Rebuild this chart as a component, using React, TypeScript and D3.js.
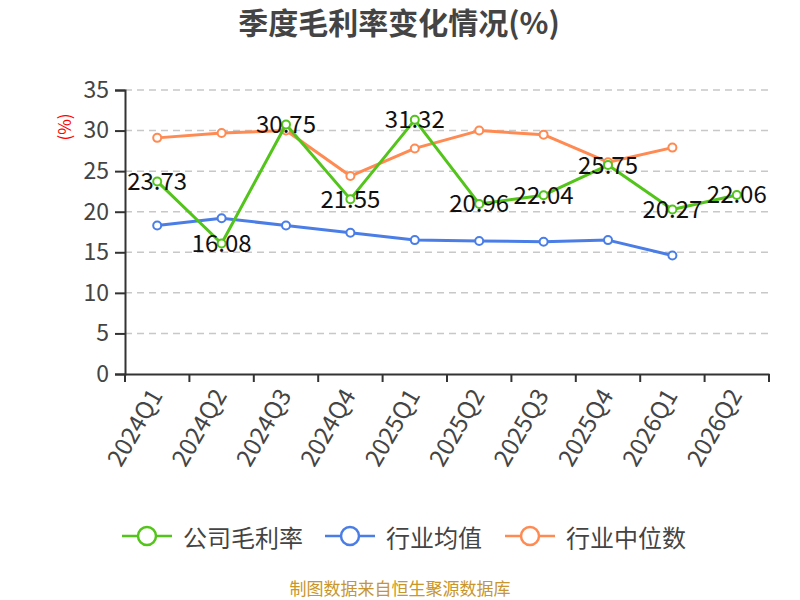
import { useEffect, useRef } from 'react';
import * as d3 from 'd3';

const QUARTERS = ['2024Q1', '2024Q2', '2024Q3', '2024Q4', '2025Q1', '2025Q2', '2025Q3', '2025Q4', '2026Q1', '2026Q2'];
const COMPANY = [23.73, 16.08, 30.75, 21.55, 31.32, 20.96, 22.04, 25.75, 20.27, 22.06];
const INDUSTRY_AVG = [18.3, 19.2, 18.3, 17.4, 16.5, 16.4, 16.3, 16.5, 14.6];
const INDUSTRY_MED = [29.1, 29.7, 30.0, 24.4, 27.8, 30.0, 29.5, 26.1, 27.9];
const Y_TICKS = [0, 5, 10, 15, 20, 25, 30, 35];

const SERIES = [
  { name: '公司毛利率', values: COMPANY, color: '#52c41a' },
  { name: '行业均值', values: INDUSTRY_AVG, color: '#4a7ee6' },
  { name: '行业中位数', values: INDUSTRY_MED, color: '#ff8a52' },
];

const FONT = '"Noto Sans CJK SC", "Noto Sans", sans-serif';

export default function App() {
  const svgRef = useRef<SVGSVGElement>(null);

  useEffect(() => {
    const svgEl = svgRef.current;
    if (!svgEl) return;
    const width = 800;
    const height = 600;
    const margin = { top: 90, right: 31, bottom: 226, left: 125 };

    const svg = d3.select(svgEl).attr('viewBox', `0 0 ${width} ${height}`);
    svg.selectAll('*').remove();

    const x = d3.scaleBand<string>().domain(QUARTERS).range([margin.left, width - margin.right]);
    const y = d3.scaleLinear().domain([0, 35]).range([height - margin.bottom, margin.top]);
    const cx = (i: number) => (x(QUARTERS[i]) ?? 0) + x.bandwidth() / 2;

    // Title
    svg.append('text').attr('x', 399).attr('y', 34).attr('text-anchor', 'middle')
      .attr('font-size', 30).attr('font-weight', 700).attr('fill', '#444').attr('font-family', FONT)
      .text('季度毛利率变化情况(%)');

    // Grid
    svg.append('g').selectAll('line').data(Y_TICKS.filter((t) => t > 0)).join('line')
      .attr('x1', margin.left).attr('x2', width - margin.right)
      .attr('y1', (d) => y(d)).attr('y2', (d) => y(d))
      .attr('stroke', '#c8c8c8').attr('stroke-width', 1.5).attr('stroke-dasharray', '7 5');

    // Y axis
    const yAxis = svg.append('g').attr('transform', `translate(${margin.left},0)`)
      .call(d3.axisLeft(y).tickValues(Y_TICKS).tickSize(10).tickPadding(6));
    yAxis.select('.domain').attr('stroke', '#333').attr('stroke-width', 2);
    yAxis.selectAll('.tick line').attr('stroke', '#333').attr('stroke-width', 2);
    yAxis.selectAll('.tick text').attr('font-size', 23).attr('fill', '#444').attr('font-family', FONT);

    // Y axis name
    svg.append('text').attr('transform', `translate(63,127) rotate(-90)`).attr('text-anchor', 'middle')
      .attr('dominant-baseline', 'central').attr('font-size', 17).attr('fill', '#ff0000').attr('font-family', FONT)
      .text('(%)');

    // X axis
    const xAxis = svg.append('g').attr('transform', `translate(0,${height - margin.bottom})`)
      .call(d3.axisBottom(x).tickSize(0).tickPadding(0));
    xAxis.select('.domain').attr('stroke', '#333').attr('stroke-width', 2);
    xAxis.selectAll('.tick text')
      .attr('font-size', 24).attr('fill', '#444').attr('font-family', FONT)
      .attr('text-anchor', 'end').attr('dy', null).attr('y', null)
      .attr('transform', 'translate(-3,16) rotate(-60)')
      .attr('dominant-baseline', 'central');
    // band boundary ticks
    const edges = QUARTERS.map((q) => x(q) ?? 0).concat([width - margin.right]);
    svg.append('g').selectAll('line').data(edges).join('line')
      .attr('x1', (d) => d).attr('x2', (d) => d)
      .attr('y1', height - margin.bottom).attr('y2', height - margin.bottom + 8)
      .attr('stroke', '#333').attr('stroke-width', 2);

    // Lines and points
    const line = d3.line<number>().x((_, i) => cx(i)).y((d) => y(d));
    const order = [SERIES[1], SERIES[2], SERIES[0]];
    order.forEach((s) => {
      const g = svg.append('g');
      g.append('path').attr('d', line(s.values) ?? '').attr('fill', 'none')
        .attr('stroke', s.color).attr('stroke-width', 3).attr('stroke-linejoin', 'round');
      g.selectAll('circle').data(s.values).join('circle')
        .attr('cx', (_, i) => cx(i)).attr('cy', (d) => y(d)).attr('r', 4)
        .attr('fill', '#fff').attr('stroke', s.color).attr('stroke-width', 2);
    });

    // Data labels
    svg.append('g').selectAll('text').data(COMPANY).join('text')
      .attr('x', (_, i) => cx(i)).attr('y', (d) => y(d) - 2)
      .attr('text-anchor', 'middle').attr('dominant-baseline', 'central')
      .attr('font-size', 24).attr('fill', '#111').attr('font-family', FONT)
      .text((d) => d.toFixed(2));

    // Legend
    const legendX = [122, 325, 505];
    const lg = svg.append('g').selectAll('g').data(SERIES).join('g')
      .attr('transform', (_, i) => `translate(${legendX[i]},536)`);
    lg.append('line').attr('x1', 0).attr('x2', 50).attr('stroke', (d) => d.color).attr('stroke-width', 2.5);
    lg.append('circle').attr('cx', 25).attr('r', 9).attr('fill', '#fff')
      .attr('stroke', (d) => d.color).attr('stroke-width', 2.5);
    lg.append('text').attr('x', 61).attr('dominant-baseline', 'central')
      .attr('font-size', 24).attr('fill', '#444').attr('font-family', FONT)
      .text((d) => d.name);

    // Footer
    svg.append('text').attr('x', 400).attr('y', 587).attr('text-anchor', 'middle')
      .attr('dominant-baseline', 'central').attr('font-size', 17).attr('fill', '#c8962a').attr('font-family', FONT)
      .text('制图数据来自恒生聚源数据库');
  }, []);

  return (
    <svg ref={svgRef} width={800} height={600}
      style={{ position: 'absolute', left: 0, top: 0, background: '#fff' }} />
  );
}
